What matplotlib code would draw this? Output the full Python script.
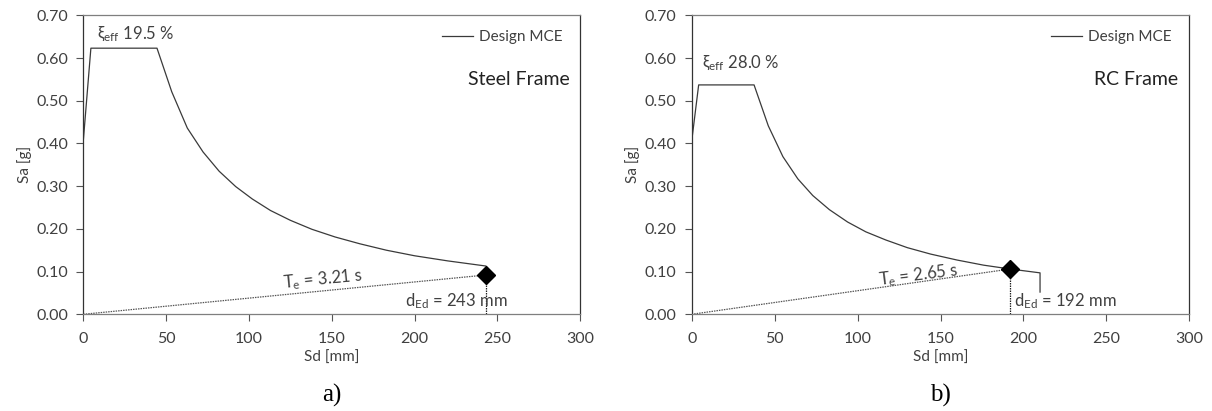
import matplotlib
matplotlib.use("Agg")
import matplotlib.pyplot as plt

# ---- data ----
steel_sd = [0, 4.6, 44.5, 53.4, 62.8, 72.3, 82, 92, 102, 113, 125, 138, 152, 167, 183, 200, 220, 243]
steel_sa = [0.405, 0.623, 0.623, 0.521, 0.436, 0.380, 0.335, 0.299, 0.270, 0.243, 0.220, 0.199,
            0.181, 0.165, 0.150, 0.137, 0.125, 0.113]
steel_perf = (243, 0.092)
steel_xi = "19.5 %"
steel_te = "3.21 s"

rc_sd = [0, 4.2, 37.6, 46.2, 55, 64, 73, 83, 94, 105, 117, 130, 144, 160, 176, 192, 210, 210]
rc_sa = [0.405, 0.537, 0.537, 0.441, 0.369, 0.317, 0.278, 0.245, 0.216, 0.193, 0.174, 0.156,
         0.141, 0.127, 0.115, 0.106, 0.097, 0.052]
rc_perf = (192, 0.106)
rc_xi = "28.0 %"
rc_te = "2.65 s"

xticks = [0, 50, 100, 150, 200, 250, 300]
yticks = [0.0, 0.1, 0.2, 0.3, 0.4, 0.5, 0.6, 0.7]

FONT = "Lato"
TXT = "#404040"
plt.rcParams["font.family"] = [FONT, "DejaVu Sans"]
plt.rcParams["mathtext.fontset"] = "custom"
plt.rcParams["mathtext.rm"] = FONT
plt.rcParams["mathtext.it"] = FONT + ":italic"

fig = plt.figure(figsize=(12.12, 4.11), dpi=100)
axL = fig.add_axes([0.0687, 0.2353, 0.4101, 0.7275])
axR = fig.add_axes([0.5707, 0.2353, 0.4106, 0.7275])


def style(ax):
    ax.set_xlim(0, 300)
    ax.set_ylim(0, 0.7)
    ax.set_xticks(xticks)
    ax.set_xticklabels([str(t) for t in xticks])
    ax.set_yticks(yticks)
    ax.set_yticklabels([f"{t:.2f}" for t in yticks])
    for s in ["left", "right"]:
        ax.spines[s].set_color("#333333")
        ax.spines[s].set_linewidth(0.9)
    for s in ["top", "bottom"]:
        ax.spines[s].set_color("#7f7f7f")
        ax.spines[s].set_linewidth(0.9)
    ax.tick_params(axis="both", direction="out", length=5, width=0.8, color="#555555",
                   labelsize=11.5, labelcolor=TXT)
    ax.tick_params(axis="x", pad=8)
    ax.tick_params(axis="y", pad=6)
    ax.set_xlabel("Sd [mm]", fontsize=11, color=TXT, labelpad=3)
    ax.set_ylabel("Sa [g]", fontsize=11, color=TXT, labelpad=3)


def panel(ax, sd, sa, perf, xi, te, frame, letter, xi_pos, te_pos, te_rot, d_pos):
    style(ax)
    ax.plot(sd, sa, color="#3a3a3a", lw=0.9, label="Design MCE")
    ax.plot([0, perf[0]], [0, perf[1]], color="#555555", lw=0.9, ls=(0, (1.2, 0.8)))
    ax.plot([perf[0], perf[0]], [0, perf[1]], color="#222222", lw=0.9, ls=(0, (1.2, 0.8)))
    ax.plot([perf[0]], [perf[1]], marker="D", color="black", ms=9, ls="none", clip_on=False)
    ax.text(xi_pos[0], xi_pos[1], "ξ" + r"$_{\mathrm{eff}}$ " + xi, fontsize=12, color=TXT,
            va="baseline", ha="left")
    ax.text(te_pos[0], te_pos[1], r"T$_{\mathrm{e}}$ = " + te, fontsize=12, color=TXT,
            rotation=te_rot, rotation_mode="anchor", ha="center", va="baseline")
    ax.text(d_pos[0], d_pos[1], r"d$_{\mathrm{Ed}}$ = %d mm" % perf[0], fontsize=12,
            color=TXT, ha="left", va="center")
    leg = ax.legend(loc="upper right", frameon=False, fontsize=11, handlelength=2.0,
                    handletextpad=0.4, borderaxespad=0.3, bbox_to_anchor=(0.985, 0.985))
    for t in leg.get_texts():
        t.set_color(TXT)
    ax.text(0.978, 0.784, frame, transform=ax.transAxes, ha="right", va="center",
            fontsize=14, color="#222222")
    ax.text(0.5, -0.27, letter, transform=ax.transAxes, ha="center", va="center",
            fontsize=18, family="Liberation Serif", color="black")


panel(axL, steel_sd, steel_sa, steel_perf, steel_xi, steel_te, "Steel Frame", "a)",
      (8.3, 0.644), (145, 0.070), 5.5, (194, 0.030))
panel(axR, rc_sd, rc_sa, rc_perf, rc_xi, rc_te, "RC Frame", "b)",
      (6, 0.577), (137, 0.080), 7.1, (194, 0.030))

fig.savefig("out.png", dpi=100)
